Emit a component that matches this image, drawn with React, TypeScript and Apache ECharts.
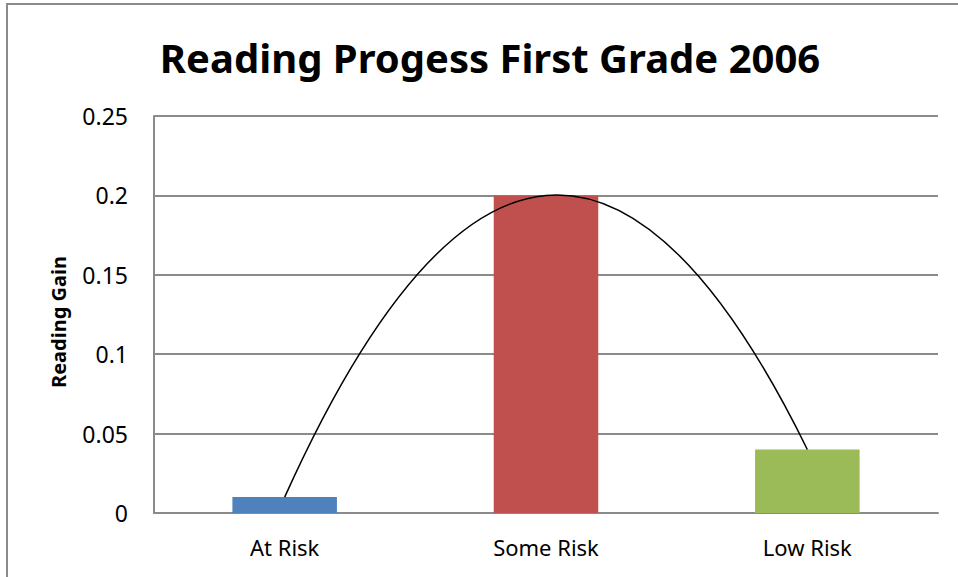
import React, { useEffect, useRef } from "react";
import * as echarts from "echarts";

const categories = ["At Risk", "Some Risk", "Low Risk"];
const readingGain = [0.01, 0.2, 0.04];
const barColors = ["#4F81BD", "#C0504D", "#9BBB59"];
const yTicks = [0, 0.05, 0.1, 0.15, 0.2, 0.25];
const titleText = "Reading Progess First Grade 2006";
const yAxisTitle = "Reading Gain";

const FONT = "'Noto Sans', 'Open Sans', sans-serif";

export default function App() {
  const ref = useRef<HTMLDivElement>(null);
  useEffect(() => {
    if (!ref.current) return;
    const chart = echarts.init(ref.current, undefined, { renderer: "svg" });
    const option: any = {
      animation: false,
      backgroundColor: "#ffffff",
      textStyle: { fontFamily: FONT },
      grid: { left: 154, top: 116, right: 20, bottom: 64, containLabel: false },
      graphic: [
        {
          type: "rect",
          shape: { x: 7, y: 4, width: 1000, height: 700 },
          style: { fill: "none", stroke: "#8a8a8a", lineWidth: 2 },
          silent: true,
        },
        {
          type: "text",
          x: 490,
          y: 57,
          style: {
            text: titleText,
            font: `bold 40px ${FONT}`,
            fill: "#000000",
            textAlign: "center",
            textVerticalAlign: "middle",
          },
        },
        {
          type: "text",
          x: 58,
          y: 322,
          rotation: Math.PI / 2,
          style: {
            text: yAxisTitle,
            font: `bold 20px ${FONT}`,
            fill: "#000000",
            textAlign: "center",
            textVerticalAlign: "middle",
          },
        },
      ],
      xAxis: {
        type: "category",
        data: categories,
        axisLine: { show: true, lineStyle: { color: "#8a8a8a", width: 2 } },
        axisTick: { show: false },
        axisLabel: { color: "#000", fontSize: 22, margin: 23, fontFamily: FONT },
      },
      yAxis: {
        type: "value",
        min: yTicks[0],
        max: yTicks[yTicks.length - 1],
        interval: yTicks[1] - yTicks[0],
        axisLine: { show: true, lineStyle: { color: "#8a8a8a", width: 2 } },
        axisTick: { show: false },
        splitLine: { show: true, lineStyle: { color: "#8a8a8a", width: 2 } },
        axisLabel: {
          color: "#000",
          fontSize: 23,
          margin: 26,
          fontFamily: FONT,
          formatter: (v: number) => String(parseFloat(v.toFixed(2))),
        },
      },
      series: [
        {
          type: "bar",
          data: readingGain.map((v, i) => ({ value: v, itemStyle: { color: barColors[i] } })),
          barWidth: "40%",
        },
        {
          type: "custom",
          data: [0],
          z: 5,
          renderItem: (params: any, api: any) => {
            const n = readingGain.length;
            const p0 = api.coord([0, readingGain[0]]);
            const pm = api.coord([1, readingGain[1]]);
            const p2 = api.coord([n - 1, readingGain[n - 1]]);
            const cpx = 2 * pm[0] - 0.5 * (p0[0] + p2[0]);
            const cpy = 2 * pm[1] - 0.5 * (p0[1] + p2[1]);
            return {
              type: "bezierCurve",
              shape: { x1: p0[0], y1: p0[1], x2: p2[0], y2: p2[1], cpx1: cpx, cpy1: cpy },
              style: { stroke: "#000000", fill: "none", lineWidth: 1.5 },
            };
          },
        },
      ],
    };
    chart.setOption(option);
    return () => chart.dispose();
  }, []);
  return (
    <div
      ref={ref}
      style={{ position: "fixed", left: 0, top: 0, width: 958, height: 577 }}
    />
  );
}
